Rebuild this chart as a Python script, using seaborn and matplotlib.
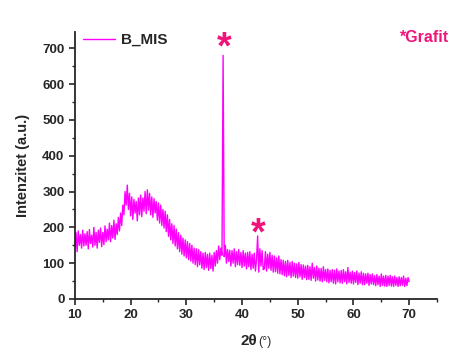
import numpy as np
import pandas as pd
import seaborn as sns
import matplotlib
matplotlib.use("Agg")
import matplotlib.pyplot as plt
from matplotlib.ticker import MultipleLocator

# XRD intensity, 0.2 deg steps from 10 to 70
intensity = [
    140, 185, 132, 190, 150, 180, 142, 192, 148, 182,
    150, 188, 140, 194, 155, 178, 145, 200, 150, 186,
    142, 192, 158, 198, 146, 186, 152, 204, 160, 195,
    165, 212, 160, 205, 170, 220, 166, 210, 180, 228,
    190, 240, 205, 262, 235, 300, 262, 318, 250, 295,
    232, 285, 222, 278, 240, 272, 218, 282, 235, 290,
    230, 282, 245, 300, 238, 305, 248, 295, 235, 285,
    228, 280, 240, 272, 220, 268, 212, 262, 205, 250,
    198, 245, 188, 235, 175, 222, 165, 210, 155, 205,
    148, 195, 140, 185, 132, 178, 125, 170, 120, 165,
    115, 160, 110, 155, 106, 150, 100, 142, 96, 140,
    90, 138, 95, 132, 86, 128, 82, 130, 88, 125,
    80, 128, 85, 122, 78, 130, 92, 135, 100, 148,
    110, 142, 122, 680, 118, 150, 100, 138, 105, 136,
    92, 135, 100, 140, 90, 132, 96, 138, 94, 130,
    88, 135, 92, 128, 84, 130, 90, 132, 82, 125,
    86, 128, 78, 110, 176, 75, 140, 92, 135, 82,
    84, 132, 78, 125, 86, 130, 80, 122, 75, 120,
    76, 115, 72, 120, 70, 110, 68, 108, 65, 105,
    62, 108, 66, 102, 60, 105, 64, 100, 60, 98,
    58, 102, 62, 96, 55, 95, 60, 92, 54, 94,
    55, 90, 52, 100, 58, 88, 50, 92, 53, 86,
    50, 85, 48, 90, 52, 82, 48, 84, 45, 80,
    48, 82, 44, 80, 42, 84, 48, 78, 45, 80,
    44, 82, 48, 76, 42, 88, 46, 75, 44, 78,
    42, 74, 46, 78, 40, 72, 44, 76, 40, 72,
    40, 70, 44, 72, 38, 68, 42, 70, 40, 65,
    37, 68, 40, 64, 35, 70, 38, 64, 36, 66,
    35, 64, 38, 66, 36, 62, 35, 64, 38, 60,
    35, 62, 37, 60, 38, 64, 35, 58, 37, 60,
    48,
]
two_theta = np.linspace(10, 70, len(intensity))
df = pd.DataFrame({"2theta": two_theta, "I": intensity})

# graphite reflections marked with stars
graphite_pos = [36.7, 42.9]
graphite_star_y = [700, 180]

sns.set_style("ticks")
plt.rcParams["font.family"] = ["Liberation Sans", "DejaVu Sans"]
plt.rcParams["font.weight"] = "bold"

fig = plt.figure(figsize=(4.54, 3.53), dpi=100)
ax = fig.add_axes([0.165, 0.153, 0.7976, 0.756])

sns.lineplot(data=df, x="2theta", y="I", ax=ax, color="#ff00ff",
             linewidth=1.0, sort=False, estimator=None, label="B_MIS")

pink = "#f0147a"
for xp, yp in zip(graphite_pos, graphite_star_y):
    ax.text(xp, yp, "*", color=pink, fontsize=27, fontweight="bold",
            ha="center", va="center")
fig.text(400 / 454, 1 - 38 / 353, "*Grafit", color=pink,
         fontsize=11.5, fontweight="bold", ha="left", va="center")

ax.set_xlim(10, 75)
ax.set_ylim(0, 745)
ax.xaxis.set_major_locator(MultipleLocator(10))
ax.xaxis.set_minor_locator(MultipleLocator(5))
ax.yaxis.set_major_locator(MultipleLocator(100))
ax.yaxis.set_minor_locator(MultipleLocator(50))
ax.tick_params(which="major", length=4, width=1.2, labelsize=9.5, direction="out")
ax.tick_params(which="minor", length=2.5, width=1, direction="out")
for lab in ax.get_xticklabels() + ax.get_yticklabels():
    lab.set_fontweight("bold")
for s in ["left", "bottom"]:
    ax.spines[s].set_linewidth(1.3)
sns.despine(ax=ax)

ax.set_ylabel("Intenzitet (a.u.)", fontsize=10.5, fontweight="bold", labelpad=9)
ax.set_xlabel("")
fig.text(257 / 454, 1 - 341 / 353, "2θ", fontsize=11, fontweight="bold",
         ha="right", va="center")
fig.text(258 / 454, 1 - 342 / 353, "(°)", fontsize=9, fontweight="normal",
         color="#333333", ha="left", va="center")

leg = ax.legend(loc="upper left", frameon=False, fontsize=11,
                handlelength=2.1, handletextpad=0.4, borderaxespad=0.0,
                bbox_to_anchor=(0.005, 1.02))
for t in leg.get_texts():
    t.set_fontweight("bold")

fig.savefig("out.png", dpi=100)
